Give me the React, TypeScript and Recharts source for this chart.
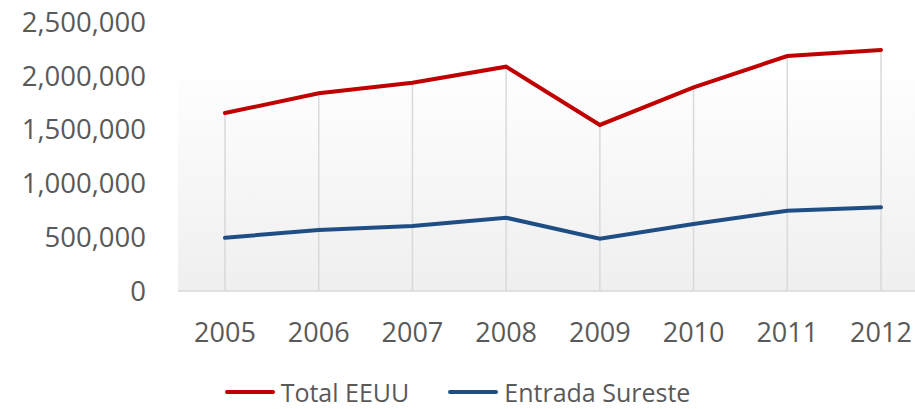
import { LineChart, Line, XAxis, YAxis, CartesianGrid, Legend, ReferenceLine } from "recharts";

const years = ["2005", "2006", "2007", "2008", "2009", "2010", "2011", "2012"];
const totalEEUU = [1654000, 1837000, 1936000, 2085000, 1543000, 1893000, 2184000, 2240000];
const entradaSureste = [495000, 567000, 604000, 681000, 486000, 623000, 746000, 778000];
const yTicks = [0, 500000, 1000000, 1500000, 2000000, 2500000];
const seriesOrder = ["total", "sureste"];

const RED = "#c00000";
const BLUE = "#1f4e84";
const TEXT = "#595959";
const FONT = "'Open Sans', sans-serif";

const data = years.map((year, i) => ({
  year,
  total: totalEEUU[i],
  sureste: entradaSureste[i],
}));

function LegendContent({ payload }: any) {
  const items = [...(payload || [])].sort(
    (a: any, b: any) => seriesOrder.indexOf(a.dataKey) - seriesOrder.indexOf(b.dataKey)
  );
  return (
    <div style={{ display: "flex", justifyContent: "center", alignItems: "center", height: 34, gap: 39 }}>
      {items.map((p: any) => (
        <div key={p.value} style={{ display: "flex", alignItems: "center", gap: 6 }}>
          <span style={{ width: 50, height: 4, borderRadius: 2, background: p.color, display: "inline-block" }} />
          <span style={{ fontFamily: FONT, fontSize: 25, color: TEXT, lineHeight: "34px", whiteSpace: "nowrap" }}>
            {p.value}
          </span>
        </div>
      ))}
    </div>
  );
}

export default function App() {
  return (
    <div style={{ position: "absolute", left: 0, top: 0, background: "#fff" }}>
      <LineChart width={915} height={409} data={data} margin={{ top: 22, right: 0, bottom: 0, left: 0 }}>
        <defs>
          <linearGradient id="plotBg" x1="0" y1="0" x2="0" y2="1">
            <stop offset="0%" stopColor="#ffffff" />
            <stop offset="15%" stopColor="#ffffff" />
            <stop offset="100%" stopColor="#efefef" />
          </linearGradient>
        </defs>
        <CartesianGrid horizontal={false} vertical={false} fill="url(#plotBg)" stroke="none" />
        <XAxis
          dataKey="year"
          padding={{ left: 47, right: 34 }}
          height={84}
          axisLine={{ stroke: "#d9d9d9", strokeWidth: 1.5 }}
          tickLine={false}
          tickSize={0}
          tickMargin={32}
          tick={{ fill: TEXT, fontSize: 27, fontFamily: FONT }}
        />
        <YAxis
          width={178}
          domain={[0, 2500000]}
          ticks={yTicks}
          axisLine={false}
          tickLine={false}
          tickSize={0}
          tickMargin={32}
          tickFormatter={(v: number) => v.toLocaleString("en-US")}
          tick={{ fill: TEXT, fontSize: 27.5, fontFamily: FONT }}
        />
        {years.map((year, i) => (
          <ReferenceLine
            key={year}
            segment={[{ x: year, y: 0 }, { x: year, y: totalEEUU[i] }]}
            stroke="#d9d9d9"
            strokeWidth={1.5}
          />
        ))}
        <Legend verticalAlign="bottom" content={<LegendContent />} />
        <Line
          type="linear"
          dataKey="total"
          name="Total EEUU"
          stroke={RED}
          strokeWidth={4}
          strokeLinecap="round"
          dot={false}
          activeDot={false}
          isAnimationActive={false}
        />
        <Line
          type="linear"
          dataKey="sureste"
          name="Entrada Sureste"
          stroke={BLUE}
          strokeWidth={4}
          strokeLinecap="round"
          dot={false}
          activeDot={false}
          isAnimationActive={false}
        />
      </LineChart>
    </div>
  );
}
